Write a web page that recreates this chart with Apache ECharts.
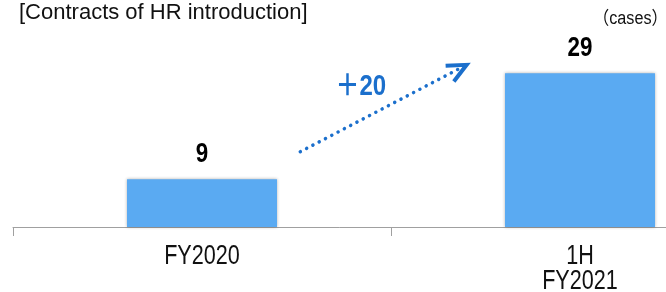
<!DOCTYPE html>
<html>
<head>
<meta charset="utf-8">
<script src="https://cdn.jsdelivr.net/npm/echarts@6/dist/echarts.min.js"></script>
<style>
  html, body { margin: 0; padding: 0; background: #fff; }
  #main { width: 666px; height: 292px; }
</style>
</head>
<body>
<div id="main"></div>
<script>
// data
const categories = ['FY2020', '1H\nFY2021'];
const contracts = [9, 29];
const increaseLabel = '＋20';
// arrow annotation, in (category index, value) space
const arrowFrom = [0.26, 14.2];
const arrowTo = [0.70, 30.6];
const increasePos = [0.42, 26.4];

const sans = '"Liberation Sans", Arial, "Noto Sans CJK JP"';
const squeeze = 0.8; // the original text is set in a condensed face
const blue = '#1b6fcc';

const chartDom = document.getElementById('main');
const myChart = echarts.init(chartDom);

const option = {
  animation: false,
  title: {
    text: '[Contracts of HR introduction]',
    left: 14,
    top: -3,
    textStyle: { fontFamily: sans, fontSize: 22, fontWeight: 'normal', color: '#111' }
  },
  // the second category runs past the right edge in the original
  grid: { left: 13, width: 756, top: 15, bottom: 65, outerBoundsMode: 'none', containLabel: false },
  xAxis: {
    type: 'category',
    data: categories,
    axisLine: { lineStyle: { color: '#a0a0a0', width: 1 } },
    axisTick: { show: true, length: 9, lineStyle: { color: '#a0a0a0' } },
    axisLabel: { show: false }
  },
  yAxis: {
    type: 'value',
    min: 0,
    max: 40,
    show: false,
    splitLine: { show: false }
  },
  series: [
    {
      type: 'bar',
      data: contracts,
      barWidth: 150,
      itemStyle: {
        color: '#5aaaf2',
        shadowColor: 'rgba(0,0,0,0.3)',
        shadowBlur: 3
      }
    }
  ]
};

myChart.setOption(option);

// texts in the condensed look, placed through the axes
function catX(i) {
  const x0 = myChart.convertToPixel({ xAxisIndex: 0 }, 0);
  const x1 = myChart.convertToPixel({ xAxisIndex: 0 }, 1);
  return x0 + (x1 - x0) * i;
}
function valY(v) {
  return myChart.convertToPixel({ yAxisIndex: 0 }, v);
}
function toPx(pt) {
  return [catX(pt[0]), valY(pt[1])];
}
function squeezedText(x, y, text, font, fill, vAlign, lineHeight) {
  return {
    type: 'text',
    x: x,
    y: y,
    scaleX: squeeze,
    style: { text: text, font: font, fill: fill, align: 'center', verticalAlign: vAlign, lineHeight: lineHeight }
  };
}

const graphics = [];
graphics.push({
  type: 'text',
  x: 593,
  y: 10,
  scaleX: 0.9,
  style: { text: '（cases）', font: '18px ' + sans, fill: '#111' }
});

const baseY = valY(0);
categories.forEach(function (c, i) {
  graphics.push(squeezedText(catX(i), baseY + 17, c, '27px ' + sans, '#111', 'top', 25));
  graphics.push(squeezedText(catX(i), valY(contracts[i]) - 11, String(contracts[i]), 'bold 28px ' + sans, '#000', 'bottom'));
});

const p0 = toPx(arrowFrom);
const p1 = toPx(arrowTo);
const ang = Math.atan2(p0[1] - p1[1], p0[0] - p1[0]);
const headLen = 21, half = 25 * Math.PI / 180;
const h1 = [p1[0] + headLen * Math.cos(ang + half), p1[1] + headLen * Math.sin(ang + half)];
const h2 = [p1[0] + headLen * Math.cos(ang - half), p1[1] + headLen * Math.sin(ang - half)];
const tp = toPx(increasePos);

graphics.push({
  type: 'line',
  shape: { x1: p0[0], y1: p0[1], x2: p1[0] + 6 * Math.cos(ang), y2: p1[1] + 6 * Math.sin(ang) },
  style: { stroke: blue, lineWidth: 3.5, lineDash: [0.1, 7], lineCap: 'round' }
});
graphics.push({
  type: 'polyline',
  shape: { points: [h1, p1, h2] },
  style: { stroke: blue, lineWidth: 4, fill: null, lineJoin: 'miter' }
});
graphics.push(squeezedText(tp[0], tp[1], increaseLabel, 'bold 30px ' + sans, blue, 'middle'));

myChart.setOption({ graphic: graphics });
</script>
</body>
</html>
